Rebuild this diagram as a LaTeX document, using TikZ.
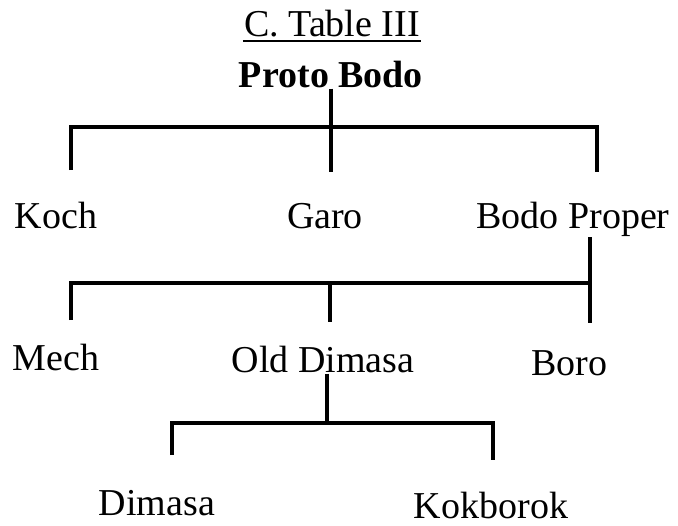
\documentclass[tikz,border=0pt]{standalone}
\usepackage{fontspec}
\setmainfont{Liberation Serif}
\usepackage{tikz}
\usetikzlibrary{calc}

\begin{document}
\begin{tikzpicture}[x=0.75pt,y=0.75pt,yscale=-1,xscale=1]
\useasboundingbox (0,0) rectangle (678,525);
\tikzset{every node/.style={font=\fontsize{28.5}{30}\selectfont, inner sep=0.75pt},
  branch/.style={line width=2.6pt}}

% Text Node
\draw (332,36) node [anchor=base] (title) {C. Table III};
% Text Node
\draw (331,87) node [anchor=base] (pb) {\bfseries Proto Bodo};
% Text Node
\draw (56,228) node [anchor=base] (koch) {Koch};
% Text Node
\draw (325,228) node [anchor=base] (garo) {Garo};
% Text Node
\draw (573,228) node [anchor=base] (bp) {Bodo Proper};
% Text Node
\draw (56,370) node [anchor=base] (mech) {Mech};
% Text Node
\draw (323,372) node [anchor=base] (od) {Old Dimasa};
% Text Node
\draw (569,375) node [anchor=base] (boro) {Boro};
% Text Node
\draw (157,515) node [anchor=base] (dimasa) {Dimasa};
% Text Node
\draw (491,518) node [anchor=base] (kok) {Kokborok};

%Underline
\draw [line width=1.5pt] ($(title.base west)+(0,5)$) -- ($(title.base east)+(0,5)$) ;

%Straight Lines: Proto Bodo
\coordinate (j1) at (331,127);
\coordinate (e1l) at (71,170);
\coordinate (e1m) at (331,172);
\coordinate (e1r) at (597,172);
\draw [branch] (pb.south -| j1) -- (e1m) ;
\draw [branch] (e1l) |- (j1) -| (e1r) ;

%Straight Lines: Bodo Proper
\coordinate (j2) at (590,283);
\coordinate (e2l) at (71,320);
\coordinate (e2m) at (330,322);
\coordinate (e2r) at (590,323);
\draw [branch] (bp.south -| j2) -- (e2r) ;
\draw [branch] (e2l) |- (j2) ;
\draw [branch] (e2m |- j2) -- (e2m) ;

%Straight Lines: Old Dimasa
\coordinate (j3) at (327,423);
\coordinate (e3l) at (172,455);
\coordinate (e3r) at (493,460);
\draw [branch] (od.south -| j3) -- (j3) ;
\draw [branch] (e3l) |- (j3) -| (e3r) ;

\end{tikzpicture}
\end{document}
